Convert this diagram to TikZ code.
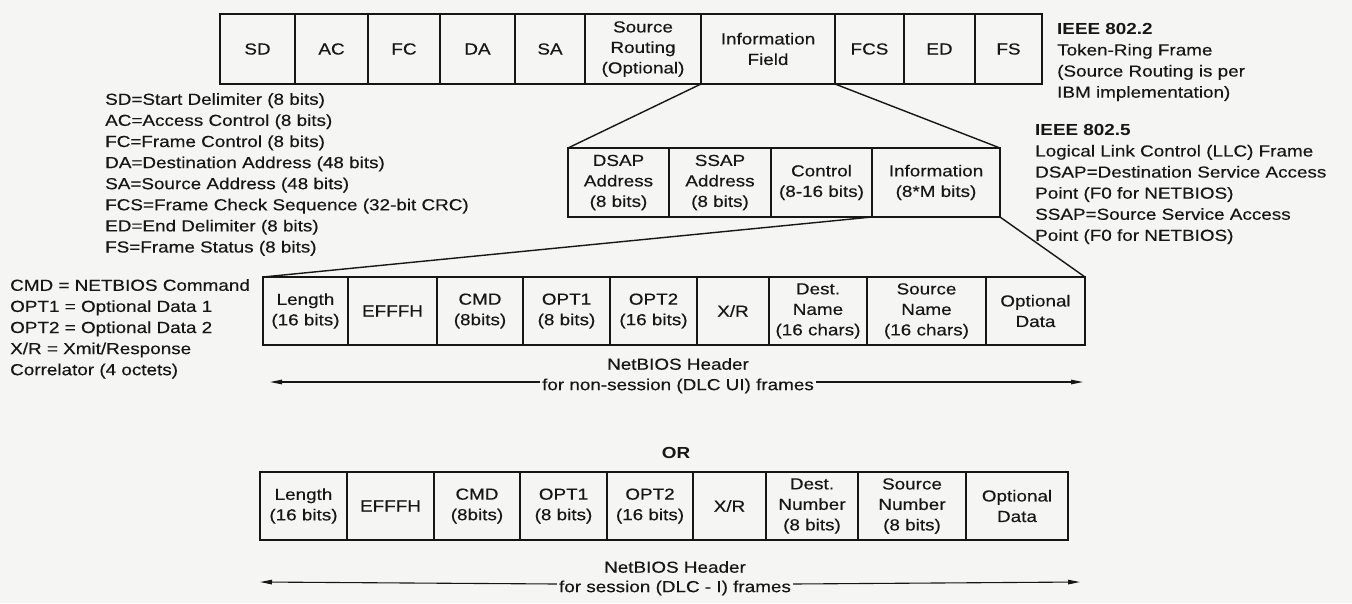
\documentclass[tikz,border=0pt]{standalone}
\usepackage{fontspec}
\setmainfont{Liberation Sans}[FakeStretch=1.18,UprightFeatures={FakeBold=0.3}]
\usepackage{xcolor}
\definecolor{ink}{RGB}{22,22,22}
\definecolor{paper}{RGB}{245,245,243}
\usepackage{tikz}
\usetikzlibrary{arrows.meta,positioning}
\newcommand{\cellfont}{\fontsize{16}{20.5}\selectfont}
\newcommand{\keyfont}{\fontsize{16}{21.1}\selectfont}

\begin{document}
\begin{tikzpicture}[x=1pt,y=-1pt,
  cell/.style={draw=ink,line width=1.5pt,outer sep=0pt,inner sep=0pt,align=center,font=\cellfont,text=ink},
  trrow/.style={cell,minimum height=70pt},
  llcrow/.style={cell,minimum height=69pt},
  nbrow/.style={cell,minimum height=68pt},
  fan/.style={draw=ink,line width=1.4pt},
  keytext/.style={align=left,anchor=north west,inner sep=0pt,font=\keyfont,text=ink},
  hdr/.style={font=\cellfont,text=ink,inner sep=2pt},
  arr/.style={draw=ink,line width=1.1pt,-{Triangle[length=12pt,width=4.5pt]}}]
  \fill[paper] (0,0) rectangle (1352,603);
  \useasboundingbox (0,0) rectangle (1352,603);

  % Token-Ring frame
  \node[trrow,minimum width=75pt] (sd) at (257.5,49) {SD};
  \node[trrow,minimum width=73pt,right=0pt of sd] (ac) {AC};
  \node[trrow,minimum width=72pt,right=0pt of ac] (fc) {FC};
  \node[trrow,minimum width=75pt,right=0pt of fc] (da) {DA};
  \node[trrow,minimum width=70pt,right=0pt of da] (sa) {SA};
  \node[trrow,minimum width=116pt,right=0pt of sa] (srt) {Source\\Routing\\(Optional)};
  \node[trrow,minimum width=134pt,right=0pt of srt] (info) {Information\\Field};
  \node[trrow,minimum width=69pt,right=0pt of info] (fcs) {FCS};
  \node[trrow,minimum width=71pt,right=0pt of fcs] (ed) {ED};
  \node[trrow,minimum width=67pt,right=0pt of ed] (fs) {FS};

  \node[keytext] (ieeetr) at (1057,23) {\textbf{IEEE 802.2}\\Token-Ring Frame\\(Source Routing is per\\IBM implementation)};

  % key to the frame fields
  \node[keytext] (frmkey) at (105,93) {SD=Start Delimiter (8 bits)\\AC=Access Control (8 bits)\\FC=Frame Control (8 bits)\\DA=Destination Address (48 bits)\\SA=Source Address (48 bits)\\FCS=Frame Check Sequence (32-bit CRC)\\ED=End Delimiter (8 bits)\\FS=Frame Status (8 bits)};

  % LLC frame
  \node[llcrow,minimum width=101pt] (dsap) at (618.5,182.5) {DSAP\\Address\\(8 bits)};
  \node[llcrow,minimum width=102pt,right=0pt of dsap] (ssap) {SSAP\\Address\\(8 bits)};
  \node[llcrow,minimum width=101pt,right=0pt of ssap] (ctrl) {Control\\(8-16 bits)};
  \node[llcrow,minimum width=128pt,right=0pt of ctrl] (llcinfo) {Information\\(8*M bits)};
  \draw[fan] (info.south west) -- (dsap.north west);
  \draw[fan] (info.south east) -- (llcinfo.north east);

  \node[keytext] (ieeellc) at (1035,124) {\textbf{IEEE 802.5}\\Logical Link Control (LLC) Frame\\DSAP=Destination Service Access\\Point (F0 for NETBIOS)\\SSAP=Source Service Access\\Point (F0 for NETBIOS)};

  % NetBIOS header, non-session frames
  \node[nbrow,minimum width=85pt] (lenA) at (305.5,311) {Length\\(16 bits)};
  \node[nbrow,minimum width=89pt,right=0pt of lenA] (efA) {EFFFH};
  \node[nbrow,minimum width=86pt,right=0pt of efA] (cmdA) {CMD\\(8bits)};
  \node[nbrow,minimum width=87pt,right=0pt of cmdA] (optoneA) {OPT1\\(8 bits)};
  \node[nbrow,minimum width=87pt,right=0pt of optoneA] (opttwoA) {OPT2\\(16 bits)};
  \node[nbrow,minimum width=72pt,right=0pt of opttwoA] (xrA) {X/R};
  \node[nbrow,minimum width=98pt,right=0pt of xrA] (destA) {Dest.\\Name\\(16 chars)};
  \node[nbrow,minimum width=119pt,right=0pt of destA] (srcA) {Source\\Name\\(16 chars)};
  \node[nbrow,minimum width=99pt,right=0pt of srcA] (optdA) {Optional\\Data};
  \draw[fan] (llcinfo.south west) -- (lenA.north west);
  \draw[fan] (llcinfo.south east) -- (optdA.north east);

  \node[keytext] (nbkey) at (10,279) {CMD = NETBIOS Command\\OPT1 = Optional Data 1\\OPT2 = Optional Data 2\\X/R = Xmit/Response\\Correlator (4 octets)};

  \node[hdr] (hdrtopA) at (678,364) {NetBIOS Header};
  \node[hdr] (hdrbotA) at (678,386) {for non-session (DLC UI) frames};
  \coordinate (arrlA) at (270,382);
  \coordinate (arrrA) at (1083,382);
  \draw[arr] ([yshift=4pt]hdrbotA.west) -- (arrlA);
  \draw[arr] ([yshift=4pt]hdrbotA.east) -- (arrrA);

  \node[font=\cellfont\bfseries,text=ink] (ortext) at (676,453) {OR};

  % NetBIOS header, session frames
  \node[nbrow,minimum width=87pt] (lenB) at (303.5,506) {Length\\(16 bits)};
  \node[nbrow,minimum width=87pt,right=0pt of lenB] (efB) {EFFFH};
  \node[nbrow,minimum width=86pt,right=0pt of efB] (cmdB) {CMD\\(8bits)};
  \node[nbrow,minimum width=87pt,right=0pt of cmdB] (optoneB) {OPT1\\(8 bits)};
  \node[nbrow,minimum width=86pt,right=0pt of optoneB] (opttwoB) {OPT2\\(16 bits)};
  \node[nbrow,minimum width=73pt,right=0pt of opttwoB] (xrB) {X/R};
  \node[nbrow,minimum width=92pt,right=0pt of xrB] (destB) {Dest.\\Number\\(8 bits)};
  \node[nbrow,minimum width=108pt,right=0pt of destB] (srcB) {Source\\Number\\(8 bits)};
  \node[nbrow,minimum width=102pt,right=0pt of srcB] (optdB) {Optional\\Data};

  \node[hdr] (hdrtopB) at (675,567) {NetBIOS Header};
  \node[hdr] (hdrbotB) at (675,588) {for session (DLC - I) frames};
  \coordinate (arrlB) at (260,582);
  \coordinate (arrrB) at (1080,582);
  \draw[arr] ([yshift=4pt]hdrbotB.west) -- (arrlB);
  \draw[arr] ([yshift=4pt]hdrbotB.east) -- (arrrB);
\end{tikzpicture}
\end{document}
